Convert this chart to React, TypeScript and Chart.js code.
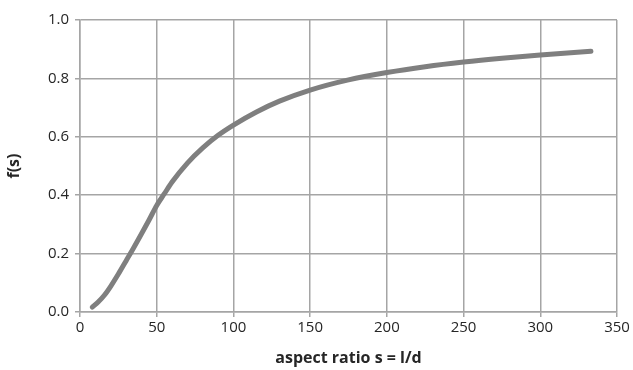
import React, { useEffect, useRef } from "react";
import { Chart, registerables } from "chart.js";

Chart.register(...registerables);

const aspectRatio = [8, 12, 16, 20, 25, 30, 35, 40, 45, 50, 55, 60, 70, 80, 90, 100, 115, 130, 150, 175, 200, 225, 250, 275, 300, 333];
const fValues = [0.017, 0.035, 0.058, 0.088, 0.13, 0.175, 0.22, 0.267, 0.315, 0.365, 0.405, 0.445, 0.51, 0.562, 0.605, 0.64, 0.685, 0.722, 0.76, 0.795, 0.82, 0.84, 0.856, 0.869, 0.88, 0.893];
const xTitle = "aspect ratio s = l/d";
const yTitle = "f(s)";

export default function App() {
  const ref = useRef<HTMLCanvasElement | null>(null);
  useEffect(() => {
    document.body.style.margin = "0";
    const grid = "#a5a5a5";
    const chart = new Chart(ref.current!, {
      type: "scatter",
      data: {
        datasets: [
          {
            data: aspectRatio.map((x, i) => ({ x, y: fValues[i] })),
            showLine: true,
            borderColor: "#7f7f7f",
            borderWidth: 5,
            borderCapStyle: "round",
            pointRadius: 0,
            cubicInterpolationMode: "monotone",
          } as any,
        ],
      },
      options: {
        animation: false,
        responsive: false,
        layout: { padding: { top: 20, right: 16, left: 5, bottom: 2 } },
        plugins: { legend: { display: false }, tooltip: { enabled: false } },
        scales: {
          x: {
            type: "linear",
            min: 0,
            max: 350,
            afterFit: (s: any) => { s.height = 370 - 312 - 2; },
            ticks: { stepSize: 50, color: "#262626", font: { family: "Open Sans", size: 15 }, padding: 2 },
            grid: { color: grid, lineWidth: 1.5, tickLength: 5 },
            border: { color: grid, width: 1.5 },
            title: { display: true, text: xTitle, color: "#262626", font: { family: "Open Sans", size: 16, weight: "bold" }, padding: { top: 4, bottom: 0 } },
          },
          y: {
            min: 0,
            max: 1,
            afterFit: (s: any) => { s.width = 80 - 5; },
            ticks: { stepSize: 0.2, color: "#262626", font: { family: "Open Sans", size: 15 }, padding: 6, callback: (v: any) => Number(v).toFixed(1) },
            grid: { color: grid, lineWidth: 1.5, tickLength: 5 },
            border: { color: grid, width: 1.5 },
            title: { display: true, text: yTitle, color: "#262626", font: { family: "Open Sans", size: 16, weight: "bold" }, padding: { top: 0, bottom: 10 } },
          },
        },
      },
    });
    return () => chart.destroy();
  }, []);
  return (
    <div style={{ position: "fixed", left: 0, top: 0, width: 633, height: 370, background: "#fff" }}>
      <canvas ref={ref} width={633} height={370} />
    </div>
  );
}
